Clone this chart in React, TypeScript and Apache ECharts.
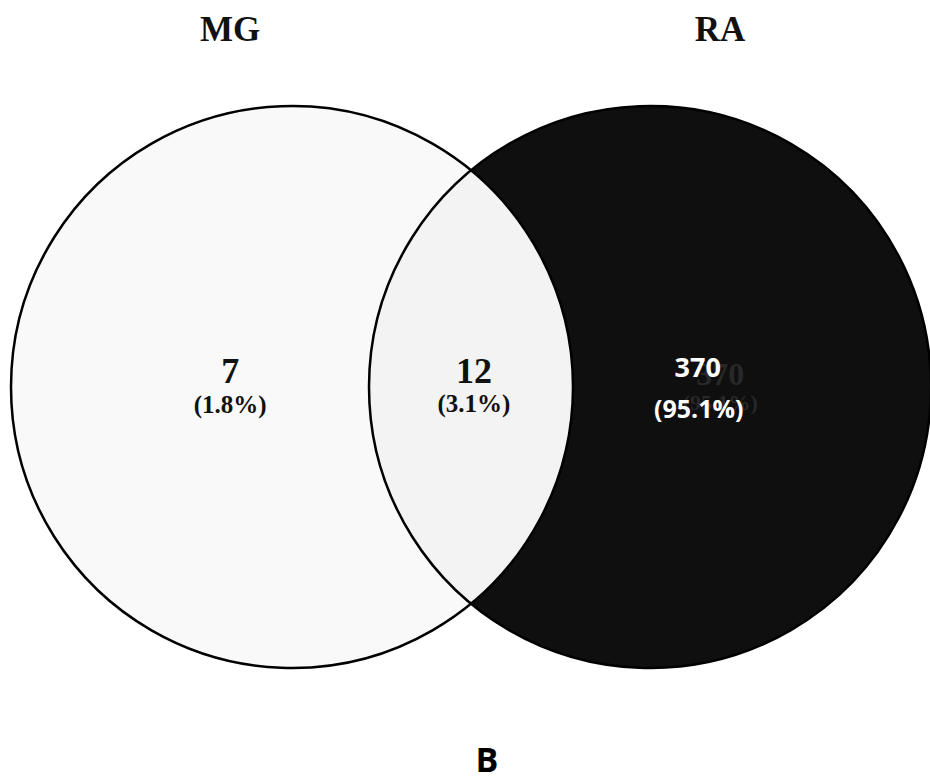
import React, { useEffect, useRef } from "react";
import * as echarts from "echarts";

// Set names and region counts (MG only, shared, RA only)
const setNames = ["MG", "RA"];
const regionCounts = [7, 12, 370];
const panelLabel = "B";

const total = regionCounts.reduce((a, b) => a + b, 0);
const pct = (v: number) => `(${((v / total) * 100).toFixed(1)}%)`;

// Layout in plot units (plot spans 930 x 779 units)
const W = 930;
const H = 779;
const R = 281;
const CY = 387;
const CX_LEFT = 292;
const CX_RIGHT = 650;

const SERIF = "'Liberation Serif', 'DejaVu Serif', serif";
const SANS = "'Open Sans', 'Noto Sans', sans-serif";

function txt(text: string, x: number, y: number, font: string, fill: string) {
  return {
    type: "text",
    style: {
      text,
      x,
      y,
      font,
      fill,
      align: "center",
      verticalAlign: "middle",
      textAlign: "center",
      textVerticalAlign: "middle",
    },
  };
}

export default function App() {
  const ref = useRef<HTMLDivElement>(null);

  useEffect(() => {
    if (!ref.current) return;
    const chart = echarts.init(ref.current, undefined, { renderer: "svg" });

    const renderItem = (_params: any, api: any) => {
      const [x1, cy] = api.coord([CX_LEFT, CY]);
      const [x2] = api.coord([CX_RIGHT, CY]);
      const r = api.size([R, 0])[0];
      const d = x2 - x1;
      const mx = (x1 + x2) / 2;
      const h = Math.sqrt(r * r - (d / 2) * (d / 2));
      const lens = `M ${mx} ${cy - h} A ${r} ${r} 0 0 1 ${mx} ${cy + h} A ${r} ${r} 0 0 1 ${mx} ${cy - h} Z`;

      const leftX = x1 - 0.22 * r;
      const rightX = x2 + 0.17 * r;
      const ghostX = x2 + 0.25 * r;

      return {
        type: "group",
        children: [
          { type: "circle", shape: { cx: x1, cy, r }, style: { fill: "#f9f9f9", stroke: null } },
          { type: "circle", shape: { cx: x2, cy, r }, style: { fill: "#0f0f0f", stroke: null } },
          { type: "path", shape: { pathData: lens }, style: { fill: "#f3f3f3", stroke: null } },
          { type: "circle", shape: { cx: x1, cy, r }, style: { fill: "none", stroke: "#000", lineWidth: 2.5 } },
          { type: "circle", shape: { cx: x2, cy, r }, style: { fill: "none", stroke: "#000", lineWidth: 2.5 } },

          // MG only
          txt(String(regionCounts[0]), leftX, cy - 16, `bold 36px ${SERIF}`, "#111"),
          txt(pct(regionCounts[0]), leftX, cy + 17, `bold 25px ${SERIF}`, "#111"),
          // shared
          txt(String(regionCounts[1]), mx + 3, cy - 16, `bold 36px ${SERIF}`, "#111"),
          txt(pct(regionCounts[1]), mx + 3, cy + 16, `bold 25px ${SERIF}`, "#111"),
          // RA only: faint underlying serif label, then white label
          txt(String(regionCounts[2]), ghostX, cy - 13, `bold 32px ${SERIF}`, "#282828"),
          txt(pct(regionCounts[2]), ghostX, cy + 15, `bold 22px ${SERIF}`, "#282828"),
          txt(String(regionCounts[2]), rightX, cy - 21, `bold 27px ${SANS}`, "#ffffff"),
          txt(pct(regionCounts[2]), rightX + 1, cy + 21, `bold 25px ${SANS}`, "#ffffff"),
        ],
      };
    };

    chart.setOption({
      animation: false,
      backgroundColor: "#ffffff",
      grid: { left: 0, right: 0, top: 0, bottom: 0 },
      xAxis: { type: "value", min: 0, max: W, show: false },
      yAxis: { type: "value", min: 0, max: H, inverse: true, show: false },
      graphic: [
        {
          type: "text",
          x: 230,
          y: 29,
          style: {
            text: setNames[0],
            font: `bold 35px ${SERIF}`,
            fill: "#111",
            textAlign: "center",
            textVerticalAlign: "middle",
          },
        },
        {
          type: "text",
          x: 720,
          y: 29,
          style: {
            text: setNames[1],
            font: `bold 35px ${SERIF}`,
            fill: "#111",
            textAlign: "center",
            textVerticalAlign: "middle",
          },
        },
        {
          type: "text",
          x: 487,
          y: 759,
          style: {
            text: panelLabel,
            font: `bold 34px ${SANS}`,
            lineHeight: 30,
            fill: "#000",
            textAlign: "center",
            textVerticalAlign: "middle",
          },
        },
      ],
      series: [
        {
          type: "custom",
          renderItem,
          data: [[0, 0]],
          clip: false,
          silent: true,
        },
      ],
    });

    return () => chart.dispose();
  }, []);

  return (
    <div
      ref={ref}
      style={{ position: "fixed", left: 0, top: 0, width: 930, height: 779 }}
    />
  );
}
